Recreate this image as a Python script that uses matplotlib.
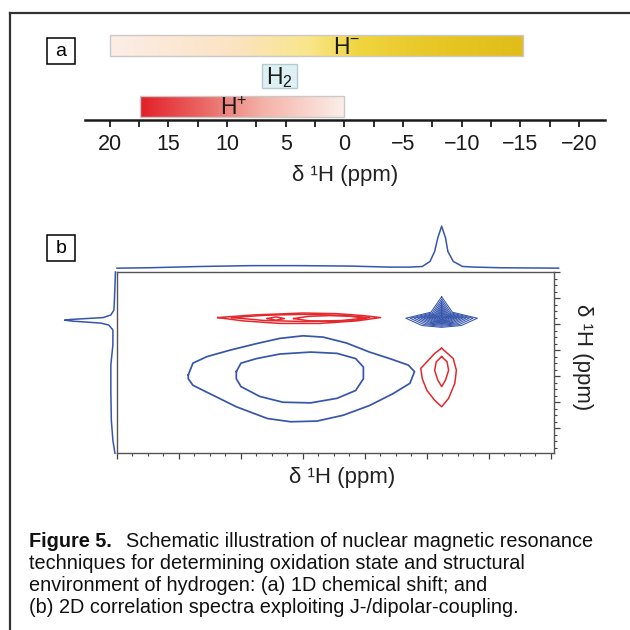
import numpy as np
import matplotlib
matplotlib.use("Agg")
import matplotlib.pyplot as plt
from matplotlib.colors import LinearSegmentedColormap
from matplotlib.lines import Line2D
from matplotlib.patches import Rectangle
from matplotlib.ticker import MultipleLocator

plt.rcParams['font.family'] = ['Liberation Sans', 'DejaVu Sans']
plt.rcParams['mathtext.fontset'] = 'custom'
plt.rcParams['mathtext.rm'] = 'Liberation Sans'
plt.rcParams['mathtext.it'] = 'Liberation Sans:italic'
plt.rcParams['mathtext.bf'] = 'Liberation Sans:bold'

# ---------------- data: panel a (1D chemical shift ranges, ppm) ----------------
species_labels = [r"$\mathrm{H}^{+}$", r"$\mathrm{H}_{2}$", r"$\mathrm{H}^{-}$"]
range_start = [17.4, 7.0, 20.0]
range_end = [0.0, 4.0, -15.2]
label_ppm = [9.4, 5.5, -0.2]
shift_ticks = [20, 15, 10, 5, 0, -5, -10, -15, -20]
shift_tick_labels = ["20", "15", "10", "5", "0", "\u22125", "\u221210", "\u221215", "\u221220"]

# ---------------- data: panel b (2D correlation schematic, ppm) ----------------
blue_outer_x = [11.4, 11.1, 10.2, 8.7, 7.0, 5.5, 4.0, 2.7, 1.2, -0.3, -1.6, -2.8, -3.2,
                -2.9, -1.8, -0.3, 1.4, 3.1, 4.8, 6.3, 8.3, 10.0, 11.1, 11.4]
blue_outer_y = [3.8, 2.0, 1.0, 0.0, -1.0, -1.8, -2.2, -2.0, -1.1, 0.3, 1.3, 2.3, 3.3,
                5.1, 6.7, 8.5, 10.0, 10.9, 11.0, 10.5, 8.7, 6.7, 5.4, 4.4]
blue_inner_x = [8.3, 8.0, 7.0, 5.5, 3.5, 1.8, 0.6, 0.1, 0.1, 0.6, 1.8, 3.5, 5.3, 6.8, 8.0, 8.3]
blue_inner_y = [3.3, 2.0, 1.3, 0.6, 0.3, 0.5, 1.3, 2.6, 4.4, 6.2, 7.4, 8.1, 8.0, 7.1, 5.6, 4.4]

red_band_outer_x = [9.5, 7.2, 4.0, 1.8, 0.1, -1.0, 0.5, 2.9, 5.5, 7.9]
red_band_outer_y = [-5.0, -5.4, -5.7, -5.6, -5.3, -5.0, -4.5, -4.1, -4.1, -4.5]
red_band_mid_x = [8.6, 6.5, 4.0, 1.5, -0.3, 1.5, 4.0, 6.5]
red_band_mid_y = [-5.0, -5.35, -5.5, -5.35, -5.0, -4.55, -4.4, -4.55]
red_loop1_x = [6.3, 5.75, 5.2, 5.75]
red_loop1_y = [-4.85, -5.1, -4.85, -4.6]
red_loop2_x = [4.6, 3.6, 2.25, 0.9, -0.1, 0.9, 2.25, 3.6]
red_loop2_y = [-4.85, -5.2, -5.3, -5.2, -4.85, -4.5, -4.4, -4.5]

red_spot_outer_x = [-4.95, -5.7, -5.9, -5.8, -5.4, -4.95, -4.5, -4.0, -3.7, -3.6, -4.0, -4.5]
red_spot_outer_y = [-0.3, 1.3, 3.1, 5.1, 7.4, 8.7, 7.7, 6.2, 4.4, 2.8, 1.8, 0.5]
red_spot_inner_x = [-4.95, -5.3, -5.4, -5.2, -4.95, -4.7, -4.5, -4.6]
red_spot_inner_y = [1.0, 1.8, 3.1, 4.6, 5.6, 4.6, 3.1, 1.8]

# sharp cross-peak: centre, half-width, extent above / below, contour levels
sharp_peak_x = -4.95
sharp_peak_y = -4.9
sharp_half_width = 2.31
sharp_top = 3.3
sharp_bottom = 1.4
sharp_levels = [1.0, 0.88, 0.77, 0.67, 0.58, 0.5, 0.42, 0.35, 0.28, 0.21, 0.14, 0.07]

# projections
top_proj_ppm = [16.0, 13.9, 10.6, 7.4, 4.2, 1.0, -1.6, -2.9, -3.7, -4.2, -4.5, -4.7, -4.95,
                -5.2, -5.35, -5.7, -6.3, -7.1, -8.7, -10.6, -12.5]
top_proj_int = [0, 1, 4, 6, 6, 5, 2.5, 2.5, 4, 16, 40, 72, 100, 72, 40, 16, 4, 2.5, 1, 0.5, 0]
left_proj_ppm = [-12.0, -7.7, -6.15, -5.4, -5.0, -4.7, -4.6, -4.45, -4.15, -3.85, -3.1,
                 -0.8, 2.3, 6.2, 10.8, 13.85, 15.85]
left_proj_int = [1, 3, 4, 10, 25, 90, 100, 84, 29, 14, 6, 6, 10, 10, 9, 6, 2]

caption_lines = [
    "techniques for determining oxidation state and structural",
    "environment of hydrogen: (a) 1D chemical shift; and",
    "(b) 2D correlation spectra exploiting J-/dipolar-coupling.",
]
caption_head_bold = "Figure 5."
caption_head_rest = "Schematic illustration of nuclear magnetic resonance"

# ---------------- styles ----------------
BLUE = "#3656AC"
RED = "#E5282D"
W = H = 630.0


def fx(px):
    return px / W


def fy(py):
    return 1 - py / H


fig = plt.figure(figsize=(6.3, 6.3), dpi=100)
fig.patch.set_facecolor("white")

# outer frame (partial border)
fig.add_artist(Line2D([fx(10), fx(10)], [fy(13), 0], color="#333333", lw=1.6))
fig.add_artist(Line2D([fx(10), 1], [fy(13), fy(13)], color="#333333", lw=1.6))


def panel_letter(letter, cx, cy):
    fig.add_artist(Rectangle((fx(cx - 14), fy(cy + 13)), 28 / W, 26 / H,
                             transform=fig.transFigure, fill=False,
                             edgecolor="black", lw=1.1))
    fig.text(fx(cx), fy(cy + 1), letter, ha="center", va="center", fontsize=14)


panel_letter("a", 61, 51)
panel_letter("b", 61, 248)

# ---------------- panel a ----------------
ax_a = fig.add_axes([fx(85), fy(120), 520 / W, 90 / H])
ax_a.set_xlim(22.1, -22.2)
ax_a.set_ylim(0.557, 3.51)
for s in ["top", "left", "right"]:
    ax_a.spines[s].set_visible(False)
ax_a.spines["bottom"].set_linewidth(1.8)
ax_a.spines["bottom"].set_color("#1a1a1a")
ax_a.set_yticks([])
ax_a.set_xticks(shift_ticks)
ax_a.set_xticklabels(shift_tick_labels)
ax_a.xaxis.set_minor_locator(MultipleLocator(2.5))
ax_a.tick_params(axis="x", which="both", direction="out", length=5, width=1.3,
                 color="#1a1a1a", labelsize=15.5, pad=5, labelcolor="#1a1a1a")
ax_a.set_xlabel("\u03b4 \u00b9H (ppm)", fontsize=16, labelpad=7, color="#222222")

cmaps = [
    LinearSegmentedColormap.from_list("hplus", [(0, "#E31F29"), (0.3, "#EA6562"),
                                                 (0.6, "#F4B2A8"), (1, "#FCEFEA")]),
    None,
    LinearSegmentedColormap.from_list("hminus", [(0, "#FCEDE7"), (0.3, "#FBE3C2"),
                                                  (0.48, "#F9E68A"), (0.6, "#F0D540"),
                                                  (0.78, "#E8C726"), (1, "#E0BD19")]),
]
row_height = [0.66, 0.79, 0.66]
ramp = np.linspace(0, 1, 256).reshape(1, -1)
for i, (lab, a0, a1, lp) in enumerate(zip(species_labels, range_start, range_end, label_ppm)):
    row = i + 1
    h = row_height[i]
    y0, y1 = row - h / 2, row + h / 2
    if cmaps[i] is not None:
        ax_a.imshow(ramp, cmap=cmaps[i], extent=(a0, a1, y0, y1), aspect="auto",
                    interpolation="bilinear", zorder=1)
        ax_a.add_patch(Rectangle((a1, y0), a0 - a1, h, fill=False,
                                 edgecolor="#C9C9C9", lw=1.0, zorder=2))
    else:
        ax_a.add_patch(Rectangle((a1, y0), a0 - a1, h, facecolor="#DDF0F4",
                                 edgecolor="#B5CBD0", lw=1.0, zorder=2))
    ax_a.text(lp, row - 0.27, lab, ha="center", va="baseline", fontsize=16.5,
              color="#1a1a1a", zorder=3)
ax_a.set_xlim(22.1, -22.2)
ax_a.set_ylim(0.557, 3.51)

# ---------------- panel b ----------------
xlim_b = (16.0, -12.2)
ylim_b = (15.8, -12.0)
ax_b = fig.add_axes([fx(117), fy(453), 437 / W, 181 / H])
ax_b.set_xlim(*xlim_b)
ax_b.set_ylim(*ylim_b)
for s in ax_b.spines.values():
    s.set_linewidth(1.0)
    s.set_color("#555555")
ax_b.xaxis.set_major_locator(MultipleLocator(4))
ax_b.xaxis.set_minor_locator(MultipleLocator(1))
ax_b.yaxis.set_major_locator(MultipleLocator(4))
ax_b.yaxis.set_minor_locator(MultipleLocator(1))
ax_b.yaxis.tick_right()
ax_b.tick_params(which="major", direction="out", length=4, width=0.9, color="#444444",
                 labelbottom=False, labelright=False, labelleft=False)
ax_b.tick_params(which="minor", direction="out", length=2.2, width=0.8, color="#444444")
ax_b.tick_params(axis="y", which="both", left=False, right=True)
ax_b.tick_params(axis="x", which="both", top=False, bottom=True)


def closed(xs, ys):
    return list(xs) + [xs[0]], list(ys) + [ys[0]]


for xs, ys in [(blue_outer_x, blue_outer_y), (blue_inner_x, blue_inner_y)]:
    cx, cy = closed(xs, ys)
    ax_b.plot(cx, cy, color=BLUE, lw=1.25)
for xs, ys in [(red_band_outer_x, red_band_outer_y), (red_band_mid_x, red_band_mid_y),
               (red_loop1_x, red_loop1_y), (red_loop2_x, red_loop2_y),
               (red_spot_outer_x, red_spot_outer_y), (red_spot_inner_x, red_spot_inner_y)]:
    cx, cy = closed(xs, ys)
    ax_b.plot(cx, cy, color=RED, lw=1.1)

for s in sharp_levels:
    hw = sharp_half_width * s
    tp = sharp_top * s
    bt = sharp_bottom * s
    px = [sharp_peak_x, sharp_peak_x - 0.3 * hw, sharp_peak_x - hw, sharp_peak_x - 0.55 * hw,
          sharp_peak_x, sharp_peak_x + 0.55 * hw, sharp_peak_x + hw, sharp_peak_x + 0.3 * hw]
    py = [sharp_peak_y - tp, sharp_peak_y - 0.28 * tp, sharp_peak_y, sharp_peak_y + 0.8 * bt,
          sharp_peak_y + bt, sharp_peak_y + 0.8 * bt, sharp_peak_y, sharp_peak_y - 0.28 * tp]
    cx, cy = closed(px, py)
    ax_b.plot(cx, cy, color=BLUE, lw=0.75)

ax_b.set_xlim(*xlim_b)
ax_b.set_ylim(*ylim_b)

# top projection
ax_t = fig.add_axes([fx(117), fy(269), 437 / W, 47 / H])
ax_t.set_xlim(*xlim_b)
ax_t.set_ylim(-2, 110)
ax_t.axis("off")
ax_t.plot(top_proj_ppm, top_proj_int, color=BLUE, lw=1.1, clip_on=False)

# left projection
ax_l = fig.add_axes([fx(62), fy(453), 55 / W, 181 / H])
ax_l.set_xlim(105, -2)
ax_l.set_ylim(*ylim_b)
ax_l.axis("off")
ax_l.plot(left_proj_int, left_proj_ppm, color=BLUE, lw=1.1, clip_on=False)

fig.text(fx(342), fy(478), "\u03b4 \u00b9H (ppm)", ha="center", va="center",
         fontsize=16, color="#222222")
fig.text(fx(583), fy(357), "\u03b4 \u00b9H (ppm)", ha="center", va="center",
         fontsize=16, rotation=-90, color="#222222")

# ---------------- caption ----------------
cap_size = 14.3
t_head = fig.text(fx(29), fy(547), caption_head_bold, ha="left", va="baseline",
                  fontsize=cap_size, fontweight="bold", color="#111111")
fig.canvas.draw()
bb = t_head.get_window_extent()
fig.text(bb.x1 / W + 14 / W, fy(547), caption_head_rest, ha="left", va="baseline",
         fontsize=cap_size, color="#111111")
for k, line in enumerate(caption_lines):
    fig.text(fx(29), fy(569 + 22 * k), line, ha="left", va="baseline",
             fontsize=cap_size, color="#111111")

fig.savefig("out.png", dpi=100, facecolor="white")
